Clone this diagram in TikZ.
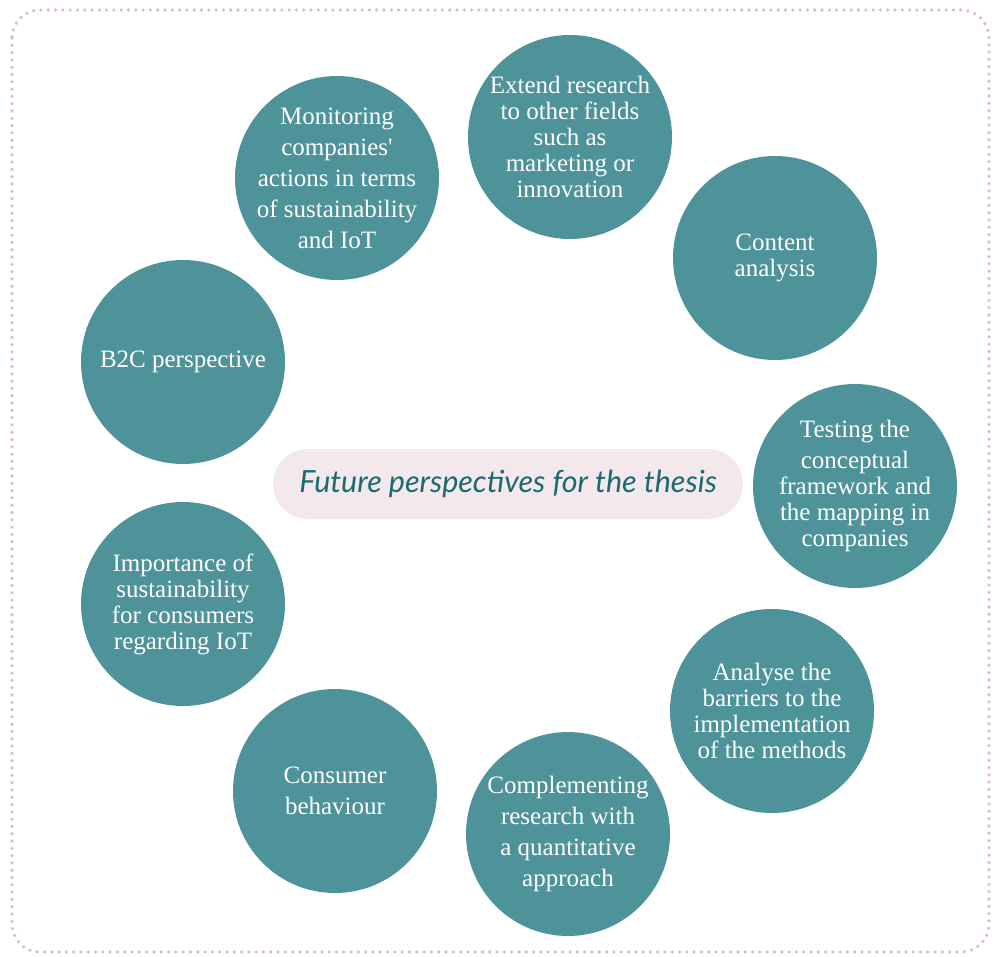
\documentclass[tikz,border=0pt]{standalone}
\usepackage{fontspec}
\setmainfont{Liberation Serif}
\newfontfamily\titlefont{Lato}
\usepackage{tikz}
\usetikzlibrary{positioning, calc}
\definecolor{bubteal}{HTML}{4D9399}
\definecolor{darkteal}{HTML}{1B6A70}
\definecolor{pillpink}{HTML}{F3E8EC}
\definecolor{dotpink}{HTML}{DDBBC8}

\tikzset{
    bubble/.style={
        circle,
        fill=bubteal,
        minimum size=204pt,
        inner sep=-14pt,
        text=white,
        align=center,
        font=\fontsize{25}{26}\selectfont
    },
    widebubble/.style={
        bubble,
        font=\fontsize{25}{31}\selectfont
    },
    pill/.style={
        rounded corners=35pt,
        fill=pillpink,
        minimum width=470pt,
        minimum height=70pt,
        text=darkteal,
        font=\titlefont\itshape\fontsize{30.5}{34}\selectfont
    }
}

\begin{document}
\begin{tikzpicture}[x=1pt,y=-1pt]
\useasboundingbox (0,0) rectangle (996,956);
% frame
\draw[
    dotpink,
    line width=3.6pt,
    line cap=round,
    dash pattern=on 0pt off 7.3pt,
    rounded corners=28pt
] (12,10) rectangle (989,952);

% centre
\node[pill] (title) at (508,484) {Future perspectives for the thesis};

% ring of ideas
\node[bubble] (ext) at (570,137) {Extend research\\to other fields\\such as\\marketing or\\innovation};
\node[bubble] (content) at (775,258) {Content\\analysis};
\node[bubble] (testing) at (855,486) {Testing the\\[5pt]conceptual\\framework and\\the mapping in\\companies};
\node[bubble] (barriers) at (772,711) {Analyse the\\barriers to the\\implementation\\of the methods};
\node[widebubble] (quant) at (568,834) {Complementing\\research with\\a quantitative\\approach};
\node[widebubble] (behaviour) at (335,791) {Consumer\\behaviour};
\node[bubble] (importance) at (183,604) {Importance of\\sustainability\\for consumers\\regarding IoT};
\node[bubble] (btoc) at (183,362) {B2C perspective};
\node[widebubble] (monitor) at (337,178) {Monitoring\\companies\textquotesingle\\actions in terms\\of sustainability\\and IoT};
\end{tikzpicture}
\end{document}
